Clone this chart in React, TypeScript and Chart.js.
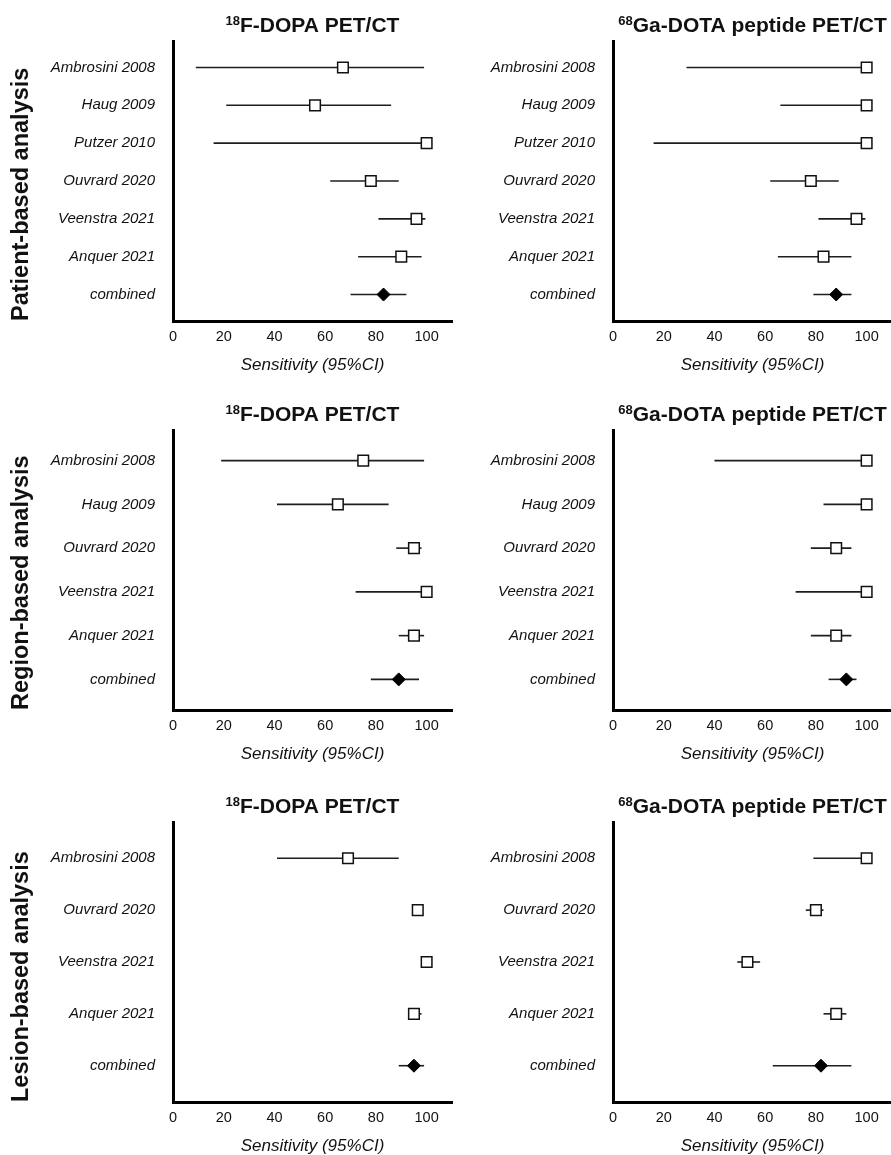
import React, { useEffect, useRef } from 'react';
import { Chart, registerables } from 'chart.js';

Chart.register(...registerables);

const FONT = '"Liberation Sans", Arial, Helvetica, sans-serif';

// ---- shared labels ----
const xTickValues = [0, 20, 40, 60, 80, 100];
const xAxisTitle = 'Sensitivity (95%CI)';
const rowLabels = ['Patient-based analysis', 'Region-based analysis', 'Lesion-based analysis'];
const dopaTitle = ['18', 'F-DOPA PET/CT'];
const dotaTitle = ['68', 'Ga-DOTA peptide PET/CT'];

// ---- patient-based ----
const patientStudies = ['Ambrosini 2008', 'Haug 2009', 'Putzer 2010', 'Ouvrard 2020', 'Veenstra 2021', 'Anquer 2021', 'combined'];
const patientDopaEst = [67, 56, 100, 78, 96, 90, 83];
const patientDopaLo = [9, 21, 16, 62, 81, 73, 70];
const patientDopaHi = [99, 86, 100, 89, 99.5, 98, 92];
const patientDotaEst = [100, 100, 100, 78, 96, 83, 88];
const patientDotaLo = [29, 66, 16, 62, 81, 65, 79];
const patientDotaHi = [100, 100, 100, 89, 99.5, 94, 94];

// ---- region-based ----
const regionStudies = ['Ambrosini 2008', 'Haug 2009', 'Ouvrard 2020', 'Veenstra 2021', 'Anquer 2021', 'combined'];
const regionDopaEst = [75, 65, 95, 100, 95, 89];
const regionDopaLo = [19, 41, 88, 72, 89, 78];
const regionDopaHi = [99, 85, 98, 100, 99, 97];
const regionDotaEst = [100, 100, 88, 100, 88, 92];
const regionDotaLo = [40, 83, 78, 72, 78, 85];
const regionDotaHi = [100, 100, 94, 100, 94, 96];

// ---- lesion-based ----
const lesionStudies = ['Ambrosini 2008', 'Ouvrard 2020', 'Veenstra 2021', 'Anquer 2021', 'combined'];
const lesionDopaEst = [69, 96.5, 100, 95, 95];
const lesionDopaLo = [41, 95, 99, 93, 89];
const lesionDopaHi = [89, 98, 100, 98, 99];
const lesionDotaEst = [100, 80, 53, 88, 82];
const lesionDotaLo = [79, 76, 49, 83, 63];
const lesionDotaHi = [100, 83, 58, 92, 94];

const supTitlePlugin = {
  id: 'supTitle',
  afterDraw(chart: any, _args: any, opts: any) {
    const { ctx, chartArea } = chart;
    const supFont = `bold 13px ${FONT}`;
    const mainFont = `bold 21px ${FONT}`;
    ctx.save();
    ctx.font = supFont;
    const ws = ctx.measureText(opts.sup).width;
    ctx.font = mainFont;
    const wm = ctx.measureText(opts.main).width;
    const cx = (chartArea.left + chartArea.right) / 2;
    const x0 = cx - (ws + wm) / 2;
    const base = chartArea.top - 9.5;
    ctx.fillStyle = '#111';
    ctx.textBaseline = 'alphabetic';
    ctx.textAlign = 'left';
    ctx.font = supFont;
    ctx.fillText(opts.sup, x0, base - 7);
    ctx.font = mainFont;
    ctx.fillText(opts.main, x0 + ws, base);
    ctx.restore();
  },
};

const CW = 455;
const CH = 379;

type PanelProps = {
  studies: string[];
  est: number[];
  lo: number[];
  hi: number[];
  title: string[];
  rowLabel?: string;
  left: number;
  top: number;
};

function Panel({ studies, est, lo, hi, title, rowLabel, left, top }: PanelProps) {
  const ref = useRef<HTMLCanvasElement | null>(null);
  useEffect(() => {
    if (!ref.current) return;
    const n = studies.length;
    const pos = (i: number) => n - 1 - i; // first study at top
    const chart = new Chart(ref.current, {
      type: 'scatter',
      data: {
        datasets: [
          {
            data: studies.slice(0, n - 1).map((_, i) => ({ x: est[i], y: pos(i) })),
            pointStyle: 'rect',
            pointRadius: 7.5,
            pointBackgroundColor: '#ffffff',
            pointBorderColor: '#111111',
            pointBorderWidth: 1.5,
            order: 0,
          },
          {
            data: [{ x: est[n - 1], y: pos(n - 1) }],
            pointStyle: 'rectRot',
            pointRadius: 6.5,
            pointBackgroundColor: '#000000',
            pointBorderColor: '#000000',
            pointBorderWidth: 1,
            order: 0,
          },
          ...studies.map((_, i) => ({
            data: [
              { x: lo[i], y: pos(i) },
              { x: hi[i], y: pos(i) },
            ],
            showLine: true,
            borderColor: '#1e1e1e',
            borderWidth: 1.6,
            pointRadius: 0,
            order: 1,
          })),
        ],
      } as any,
      options: {
        animation: false,
        responsive: false,
        events: [],
        layout: { autoPadding: false, padding: { top: 41, left: 0, right: 3, bottom: 0 } },
        plugins: {
          legend: { display: false },
          tooltip: { enabled: false },
          supTitle: { sup: title[0], main: title[1] },
        } as any,
        scales: {
          x: {
            type: 'linear',
            min: 0,
            max: 110,
            grid: { display: false, drawTicks: false },
            border: { display: true, color: '#000', width: 3 },
            afterBuildTicks: (s: any) => {
              s.ticks = xTickValues.map((v) => ({ value: v }));
            },
            ticks: { color: '#111', font: { family: FONT, size: 14.5 }, padding: 7 },
            title: {
              display: true,
              text: xAxisTitle,
              color: '#111',
              font: { family: FONT, size: 17, style: 'italic' },
              padding: { top: 0, bottom: 3.5 },
            },
            afterFit: (s: any) => {
              s.height = 58;
            },
          },
          y: {
            type: 'linear',
            min: -0.7,
            max: n - 0.3,
            grid: { display: false, drawTicks: false },
            border: { display: true, color: '#000', width: 3 },
            afterBuildTicks: (s: any) => {
              s.ticks = studies.map((_, i) => ({ value: pos(i) }));
            },
            ticks: {
              color: '#111',
              font: { family: FONT, size: 15, style: 'italic' },
              padding: 18,
              callback: (v: any) => studies[n - 1 - Math.round(Number(v))],
            },
            title: {
              display: !!rowLabel,
              text: rowLabel || '',
              align: 'start',
              color: '#111',
              font: { family: FONT, size: 23.5, weight: 'bold', lineHeight: 1 },
              padding: { top: 10, bottom: 0 },
            },
            afterFit: (s: any) => {
              s.width = 173;
            },
          },
        } as any,
      },
      plugins: [supTitlePlugin],
    });
    return () => chart.destroy();
  }, []);
  return (
    <div style={{ position: 'absolute', left, top, width: CW, height: CH }}>
      <canvas ref={ref} width={CW} height={CH} style={{ width: CW, height: CH, display: 'block' }} />
    </div>
  );
}

export default function App() {
  return (
    <div
      style={{
        position: 'absolute',
        left: 0,
        top: 0,
        width: 891,
        height: 1155,
        overflow: 'hidden',
        background: '#ffffff',
      }}
    >
      <Panel studies={patientStudies} est={patientDopaEst} lo={patientDopaLo} hi={patientDopaHi} title={dopaTitle} rowLabel={rowLabels[0]} left={0} top={0} />
      <Panel studies={patientStudies} est={patientDotaEst} lo={patientDotaLo} hi={patientDotaHi} title={dotaTitle} left={440} top={0} />
      <Panel studies={regionStudies} est={regionDopaEst} lo={regionDopaLo} hi={regionDopaHi} title={dopaTitle} rowLabel={rowLabels[1]} left={0} top={389} />
      <Panel studies={regionStudies} est={regionDotaEst} lo={regionDotaLo} hi={regionDotaHi} title={dotaTitle} left={440} top={389} />
      <Panel studies={lesionStudies} est={lesionDopaEst} lo={lesionDopaLo} hi={lesionDopaHi} title={dopaTitle} rowLabel={rowLabels[2]} left={0} top={781} />
      <Panel studies={lesionStudies} est={lesionDotaEst} lo={lesionDotaLo} hi={lesionDotaHi} title={dotaTitle} left={440} top={781} />
    </div>
  );
}
